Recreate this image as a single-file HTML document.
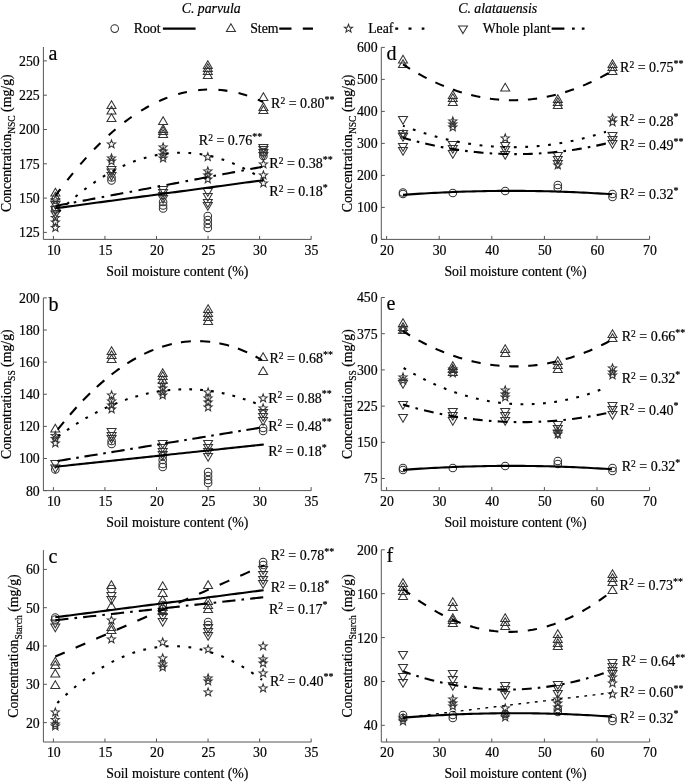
<!DOCTYPE html>
<html><head><meta charset="utf-8"><style>
html,body{margin:0;padding:0;background:#fff;}
svg{display:block;will-change:transform;}
text{font-family:"Liberation Serif",serif;fill:#000;stroke:#000;stroke-width:0.2px;}
.m{fill:none;stroke:#333;stroke-width:1.05;}
</style></head><body>
<svg width="685" height="783" viewBox="0 0 685 783">
<text x="39.7" y="237.3" font-size="13.8" text-anchor="end">125</text>
<text x="39.7" y="203.0" font-size="13.8" text-anchor="end">150</text>
<text x="39.7" y="168.7" font-size="13.8" text-anchor="end">175</text>
<text x="39.7" y="134.4" font-size="13.8" text-anchor="end">200</text>
<text x="39.7" y="100.1" font-size="13.8" text-anchor="end">225</text>
<text x="39.7" y="65.8" font-size="13.8" text-anchor="end">250</text>
<text x="53.8" y="254.6" font-size="13.8" text-anchor="middle">10</text>
<text x="105.4" y="254.6" font-size="13.8" text-anchor="middle">15</text>
<text x="156.9" y="254.6" font-size="13.8" text-anchor="middle">20</text>
<text x="208.5" y="254.6" font-size="13.8" text-anchor="middle">25</text>
<text x="260.0" y="254.6" font-size="13.8" text-anchor="middle">30</text>
<text x="311.5" y="254.6" font-size="13.8" text-anchor="middle">35</text>
<path d="M43.4,47.0V239.4H311.3M43.4,232.40h3.5M43.4,198.10h3.5M43.4,163.80h3.5M43.4,129.50h3.5M43.4,95.20h3.5M43.4,60.90h3.5M53.40,239.4v-3.5M104.95,239.4v-3.5M156.50,239.4v-3.5M208.05,239.4v-3.5M259.60,239.4v-3.5M311.15,239.4v-3.5" stroke="#555" stroke-width="1" fill="none"/>
<text x="48.6" y="59.6" font-size="20" text-anchor="start">a</text>
<text x="177.3" y="275.8" font-size="13.8" text-anchor="middle">Soil moisture content (%)</text>
<text transform="translate(10.8,143.2) rotate(-90)" font-size="13.8" text-anchor="middle">Concentration<tspan font-size="9.5" dy="3.8">NSC</tspan><tspan dy="-3.8"> (mg/g)</tspan></text>
<text x="39.7" y="495.5" font-size="13.8" text-anchor="end">80</text>
<text x="39.7" y="463.4" font-size="13.8" text-anchor="end">100</text>
<text x="39.7" y="431.3" font-size="13.8" text-anchor="end">120</text>
<text x="39.7" y="399.2" font-size="13.8" text-anchor="end">140</text>
<text x="39.7" y="367.0" font-size="13.8" text-anchor="end">160</text>
<text x="39.7" y="334.9" font-size="13.8" text-anchor="end">180</text>
<text x="39.7" y="302.8" font-size="13.8" text-anchor="end">200</text>
<text x="53.8" y="505.8" font-size="13.8" text-anchor="middle">10</text>
<text x="105.4" y="505.8" font-size="13.8" text-anchor="middle">15</text>
<text x="156.9" y="505.8" font-size="13.8" text-anchor="middle">20</text>
<text x="208.5" y="505.8" font-size="13.8" text-anchor="middle">25</text>
<text x="260.0" y="505.8" font-size="13.8" text-anchor="middle">30</text>
<text x="311.5" y="505.8" font-size="13.8" text-anchor="middle">35</text>
<path d="M43.4,297.9V490.6H311.3M43.4,490.62h3.5M43.4,458.50h3.5M43.4,426.38h3.5M43.4,394.26h3.5M43.4,362.14h3.5M43.4,330.02h3.5M43.4,297.90h3.5M53.40,490.6v-3.5M104.95,490.6v-3.5M156.50,490.6v-3.5M208.05,490.6v-3.5M259.60,490.6v-3.5M311.15,490.6v-3.5" stroke="#555" stroke-width="1" fill="none"/>
<text x="48.6" y="310.5" font-size="20" text-anchor="start">b</text>
<text x="177.3" y="527.0" font-size="13.8" text-anchor="middle">Soil moisture content (%)</text>
<text transform="translate(10.8,394.2) rotate(-90)" font-size="13.8" text-anchor="middle">Concentration<tspan font-size="9.5" dy="3.8">SS</tspan><tspan dy="-3.8"> (mg/g)</tspan></text>
<text x="39.7" y="727.5" font-size="13.8" text-anchor="end">20</text>
<text x="39.7" y="689.2" font-size="13.8" text-anchor="end">30</text>
<text x="39.7" y="650.9" font-size="13.8" text-anchor="end">40</text>
<text x="39.7" y="612.6" font-size="13.8" text-anchor="end">50</text>
<text x="39.7" y="574.3" font-size="13.8" text-anchor="end">60</text>
<text x="53.8" y="757.2" font-size="13.8" text-anchor="middle">10</text>
<text x="105.4" y="757.2" font-size="13.8" text-anchor="middle">15</text>
<text x="156.9" y="757.2" font-size="13.8" text-anchor="middle">20</text>
<text x="208.5" y="757.2" font-size="13.8" text-anchor="middle">25</text>
<text x="260.0" y="757.2" font-size="13.8" text-anchor="middle">30</text>
<text x="311.5" y="757.2" font-size="13.8" text-anchor="middle">35</text>
<path d="M43.4,550.1V742.0H311.3M43.4,722.60h3.5M43.4,684.30h3.5M43.4,646.00h3.5M43.4,607.70h3.5M43.4,569.40h3.5M53.40,742.0v-3.5M104.95,742.0v-3.5M156.50,742.0v-3.5M208.05,742.0v-3.5M259.60,742.0v-3.5M311.15,742.0v-3.5" stroke="#555" stroke-width="1" fill="none"/>
<text x="48.6" y="562.7" font-size="20" text-anchor="start">c</text>
<text x="177.3" y="778.4" font-size="13.8" text-anchor="middle">Soil moisture content (%)</text>
<text transform="translate(18.1,646.0) rotate(-90)" font-size="13.8" text-anchor="middle">Concentration<tspan font-size="9.5" dy="3.8">Starch</tspan><tspan dy="-3.8"> (mg/g)</tspan></text>
<text x="377.6" y="244.3" font-size="13.8" text-anchor="end">0</text>
<text x="377.6" y="212.3" font-size="13.8" text-anchor="end">100</text>
<text x="377.6" y="180.3" font-size="13.8" text-anchor="end">200</text>
<text x="377.6" y="148.3" font-size="13.8" text-anchor="end">300</text>
<text x="377.6" y="116.3" font-size="13.8" text-anchor="end">400</text>
<text x="377.6" y="84.3" font-size="13.8" text-anchor="end">500</text>
<text x="377.6" y="52.3" font-size="13.8" text-anchor="end">600</text>
<text x="387.0" y="254.6" font-size="13.8" text-anchor="middle">20</text>
<text x="439.6" y="254.6" font-size="13.8" text-anchor="middle">30</text>
<text x="492.2" y="254.6" font-size="13.8" text-anchor="middle">40</text>
<text x="544.8" y="254.6" font-size="13.8" text-anchor="middle">50</text>
<text x="597.4" y="254.6" font-size="13.8" text-anchor="middle">60</text>
<text x="650.0" y="254.6" font-size="13.8" text-anchor="middle">70</text>
<path d="M381.3,47.4V239.4H649.6M381.3,239.40h3.5M381.3,207.40h3.5M381.3,175.40h3.5M381.3,143.40h3.5M381.3,111.40h3.5M381.3,79.40h3.5M381.3,47.40h3.5M386.60,239.4v-3.5M439.20,239.4v-3.5M491.80,239.4v-3.5M544.40,239.4v-3.5M597.00,239.4v-3.5M649.60,239.4v-3.5" stroke="#555" stroke-width="1" fill="none"/>
<text x="386.5" y="60.0" font-size="20" text-anchor="start">d</text>
<text x="515.5" y="275.8" font-size="13.8" text-anchor="middle">Soil moisture content (%)</text>
<text transform="translate(351.9,143.4) rotate(-90)" font-size="13.8" text-anchor="middle">Concentration<tspan font-size="9.5" dy="3.8">NSC</tspan><tspan dy="-3.8"> (mg/g)</tspan></text>
<text x="377.6" y="483.4" font-size="13.8" text-anchor="end">75</text>
<text x="377.6" y="447.2" font-size="13.8" text-anchor="end">150</text>
<text x="377.6" y="411.0" font-size="13.8" text-anchor="end">225</text>
<text x="377.6" y="374.8" font-size="13.8" text-anchor="end">300</text>
<text x="377.6" y="338.6" font-size="13.8" text-anchor="end">375</text>
<text x="377.6" y="302.4" font-size="13.8" text-anchor="end">450</text>
<text x="387.0" y="505.8" font-size="13.8" text-anchor="middle">20</text>
<text x="439.6" y="505.8" font-size="13.8" text-anchor="middle">30</text>
<text x="492.2" y="505.8" font-size="13.8" text-anchor="middle">40</text>
<text x="544.8" y="505.8" font-size="13.8" text-anchor="middle">50</text>
<text x="597.4" y="505.8" font-size="13.8" text-anchor="middle">60</text>
<text x="650.0" y="505.8" font-size="13.8" text-anchor="middle">70</text>
<path d="M381.3,297.5V490.6H649.6M381.3,478.51h3.5M381.3,442.31h3.5M381.3,406.11h3.5M381.3,369.90h3.5M381.3,333.70h3.5M381.3,297.50h3.5M386.60,490.6v-3.5M439.20,490.6v-3.5M491.80,490.6v-3.5M544.40,490.6v-3.5M597.00,490.6v-3.5M649.60,490.6v-3.5" stroke="#555" stroke-width="1" fill="none"/>
<text x="386.5" y="310.1" font-size="20" text-anchor="start">e</text>
<text x="515.5" y="527.0" font-size="13.8" text-anchor="middle">Soil moisture content (%)</text>
<text transform="translate(351.9,394.1) rotate(-90)" font-size="13.8" text-anchor="middle">Concentration<tspan font-size="9.5" dy="3.8">SS</tspan><tspan dy="-3.8"> (mg/g)</tspan></text>
<text x="377.6" y="730.2" font-size="13.8" text-anchor="end">40</text>
<text x="377.6" y="686.3" font-size="13.8" text-anchor="end">80</text>
<text x="377.6" y="642.5" font-size="13.8" text-anchor="end">120</text>
<text x="377.6" y="598.6" font-size="13.8" text-anchor="end">160</text>
<text x="377.6" y="554.7" font-size="13.8" text-anchor="end">200</text>
<text x="387.0" y="757.2" font-size="13.8" text-anchor="middle">20</text>
<text x="439.6" y="757.2" font-size="13.8" text-anchor="middle">30</text>
<text x="492.2" y="757.2" font-size="13.8" text-anchor="middle">40</text>
<text x="544.8" y="757.2" font-size="13.8" text-anchor="middle">50</text>
<text x="597.4" y="757.2" font-size="13.8" text-anchor="middle">60</text>
<text x="650.0" y="757.2" font-size="13.8" text-anchor="middle">70</text>
<path d="M381.3,549.8V742.0H649.6M381.3,725.32h3.5M381.3,681.44h3.5M381.3,637.56h3.5M381.3,593.68h3.5M381.3,549.80h3.5M386.60,742.0v-3.5M439.20,742.0v-3.5M491.80,742.0v-3.5M544.40,742.0v-3.5M597.00,742.0v-3.5M649.60,742.0v-3.5" stroke="#555" stroke-width="1" fill="none"/>
<text x="386.5" y="562.4" font-size="20" text-anchor="start">f</text>
<text x="515.5" y="778.4" font-size="13.8" text-anchor="middle">Soil moisture content (%)</text>
<text transform="translate(351.9,645.9) rotate(-90)" font-size="13.8" text-anchor="middle">Concentration<tspan font-size="9.5" dy="3.8">Starch</tspan><tspan dy="-3.8"> (mg/g)</tspan></text>
<text x="181.7" y="13.3" font-size="13.8" text-anchor="start" font-style="italic">C. parvula</text>
<text x="458.2" y="13.0" font-size="13.8" text-anchor="start" font-style="italic">C. alatauensis</text>
<circle cx="114.7" cy="28.6" r="3.8" class="m"/>
<text x="133.7" y="33.1" font-size="13.8" text-anchor="start">Root</text>
<path d="M162.9,28.6H195.6" stroke="#000" stroke-width="2.1"/>
<path d="M230.9,23.8L235.4,31.5H226.4Z" class="m"/>
<text x="250.2" y="33.1" font-size="13.8" text-anchor="start">Stem</text>
<path d="M279.3,28.6H291.5M302.8,28.6H313" stroke="#000" stroke-width="2.1"/>
<polygon points="348.50,24.30 349.56,27.14 352.59,27.27 350.21,29.16 351.03,32.08 348.50,30.40 345.97,32.08 346.79,29.16 344.41,27.27 347.44,27.14" class="m"/>
<text x="368.2" y="33.1" font-size="13.8" text-anchor="start">Leaf</text>
<path d="M395.2,28.6H398.2M408.5,28.6H411.5M421.7,28.6H424.4" stroke="#000" stroke-width="2.1"/>
<path d="M463.0,33.6L467.5,25.9H458.5Z" class="m"/>
<text x="482.7" y="33.1" font-size="13.8" text-anchor="start">Whole plant</text>
<path d="M551.6,28.6H564.4M572,28.6H574.7M581.8,28.6H584.5" stroke="#000" stroke-width="2.1"/>
<path d="M55.4,188.3L59.9,196.0H50.9Z" class="m"/>
<path d="M55.4,192.3L59.9,200.0H50.9Z" class="m"/>
<circle cx="55.4" cy="207.0" r="3.8" class="m"/>
<circle cx="55.4" cy="209.5" r="3.8" class="m"/>
<path d="M55.4,209.2L59.9,201.5H50.9Z" class="m"/>
<path d="M55.4,214.2L59.9,206.5H50.9Z" class="m"/>
<path d="M55.4,218.7L59.9,211.0H50.9Z" class="m"/>
<polygon points="55.40,195.50 56.46,198.34 59.49,198.47 57.11,200.36 57.93,203.28 55.40,201.60 52.87,203.28 53.69,200.36 51.31,198.47 54.34,198.34" class="m"/>
<polygon points="55.40,213.50 56.46,216.34 59.49,216.47 57.11,218.36 57.93,221.28 55.40,219.60 52.87,221.28 53.69,218.36 51.31,216.47 54.34,216.34" class="m"/>
<polygon points="55.40,218.00 56.46,220.84 59.49,220.97 57.11,222.86 57.93,225.78 55.40,224.10 52.87,225.78 53.69,222.86 51.31,220.97 54.34,220.84" class="m"/>
<polygon points="55.40,223.50 56.46,226.34 59.49,226.47 57.11,228.36 57.93,231.28 55.40,229.60 52.87,231.28 53.69,228.36 51.31,226.47 54.34,226.34" class="m"/>
<path d="M111.5,100.8L116.0,108.5H107.0Z" class="m"/>
<path d="M111.5,106.3L116.0,114.0H107.0Z" class="m"/>
<path d="M111.5,113.8L116.0,121.5H107.0Z" class="m"/>
<polygon points="111.50,140.00 112.56,142.84 115.59,142.97 113.21,144.86 114.03,147.78 111.50,146.10 108.97,147.78 109.79,144.86 107.41,142.97 110.44,142.84" class="m"/>
<polygon points="111.50,154.00 112.56,156.84 115.59,156.97 113.21,158.86 114.03,161.78 111.50,160.10 108.97,161.78 109.79,158.86 107.41,156.97 110.44,156.84" class="m"/>
<polygon points="111.50,157.00 112.56,159.84 115.59,159.97 113.21,161.86 114.03,164.78 111.50,163.10 108.97,164.78 109.79,161.86 107.41,159.97 110.44,159.84" class="m"/>
<path d="M111.5,174.2L116.0,166.5H107.0Z" class="m"/>
<path d="M111.5,176.7L116.0,169.0H107.0Z" class="m"/>
<path d="M111.5,180.2L116.0,172.5H107.0Z" class="m"/>
<circle cx="111.5" cy="177.5" r="3.8" class="m"/>
<circle cx="111.5" cy="180.5" r="3.8" class="m"/>
<path d="M163.1,116.8L167.6,124.5H158.6Z" class="m"/>
<path d="M163.1,124.8L167.6,132.5H158.6Z" class="m"/>
<path d="M163.1,126.8L167.6,134.5H158.6Z" class="m"/>
<path d="M163.1,129.8L167.6,137.5H158.6Z" class="m"/>
<polygon points="163.10,143.00 164.16,145.84 167.19,145.97 164.81,147.86 165.63,150.78 163.10,149.10 160.57,150.78 161.39,147.86 159.01,145.97 162.04,145.84" class="m"/>
<polygon points="163.10,147.00 164.16,149.84 167.19,149.97 164.81,151.86 165.63,154.78 163.10,153.10 160.57,154.78 161.39,151.86 159.01,149.97 162.04,149.84" class="m"/>
<polygon points="163.10,151.00 164.16,153.84 167.19,153.97 164.81,155.86 165.63,158.78 163.10,157.10 160.57,158.78 161.39,155.86 159.01,153.97 162.04,153.84" class="m"/>
<polygon points="163.10,154.00 164.16,156.84 167.19,156.97 164.81,158.86 165.63,161.78 163.10,160.10 160.57,161.78 161.39,158.86 159.01,156.97 162.04,156.84" class="m"/>
<path d="M163.1,194.2L167.6,186.5H158.6Z" class="m"/>
<path d="M163.1,197.2L167.6,189.5H158.6Z" class="m"/>
<path d="M163.1,200.2L167.6,192.5H158.6Z" class="m"/>
<path d="M163.1,203.2L167.6,195.5H158.6Z" class="m"/>
<circle cx="163.1" cy="202.0" r="3.8" class="m"/>
<circle cx="163.1" cy="205.5" r="3.8" class="m"/>
<circle cx="163.1" cy="208.5" r="3.8" class="m"/>
<path d="M207.8,60.8L212.3,68.5H203.3Z" class="m"/>
<path d="M207.8,63.8L212.3,71.5H203.3Z" class="m"/>
<path d="M207.8,66.8L212.3,74.5H203.3Z" class="m"/>
<path d="M207.8,70.8L212.3,78.5H203.3Z" class="m"/>
<polygon points="207.80,152.80 208.86,155.64 211.89,155.77 209.51,157.66 210.33,160.58 207.80,158.90 205.27,160.58 206.09,157.66 203.71,155.77 206.74,155.64" class="m"/>
<polygon points="207.80,167.00 208.86,169.84 211.89,169.97 209.51,171.86 210.33,174.78 207.80,173.10 205.27,174.78 206.09,171.86 203.71,169.97 206.74,169.84" class="m"/>
<polygon points="207.80,171.00 208.86,173.84 211.89,173.97 209.51,175.86 210.33,178.78 207.80,177.10 205.27,178.78 206.09,175.86 203.71,173.97 206.74,173.84" class="m"/>
<polygon points="207.80,175.00 208.86,177.84 211.89,177.97 209.51,179.86 210.33,182.78 207.80,181.10 205.27,182.78 206.09,179.86 203.71,177.97 206.74,177.84" class="m"/>
<path d="M207.8,196.2L212.3,188.5H203.3Z" class="m"/>
<path d="M207.8,201.2L212.3,193.5H203.3Z" class="m"/>
<path d="M207.8,207.2L212.3,199.5H203.3Z" class="m"/>
<path d="M207.8,210.2L212.3,202.5H203.3Z" class="m"/>
<circle cx="207.8" cy="216.0" r="3.8" class="m"/>
<circle cx="207.8" cy="220.0" r="3.8" class="m"/>
<circle cx="207.8" cy="224.0" r="3.8" class="m"/>
<circle cx="207.8" cy="228.0" r="3.8" class="m"/>
<path d="M263.4,92.8L267.9,100.5H258.9Z" class="m"/>
<path d="M263.4,102.8L267.9,110.5H258.9Z" class="m"/>
<path d="M263.4,105.8L267.9,113.5H258.9Z" class="m"/>
<path d="M263.4,152.2L267.9,144.5H258.9Z" class="m"/>
<path d="M263.4,154.2L267.9,146.5H258.9Z" class="m"/>
<path d="M263.4,157.2L267.9,149.5H258.9Z" class="m"/>
<path d="M263.4,160.2L267.9,152.5H258.9Z" class="m"/>
<circle cx="263.4" cy="152.0" r="3.8" class="m"/>
<circle cx="263.4" cy="156.0" r="3.8" class="m"/>
<polygon points="263.40,160.00 264.46,162.84 267.49,162.97 265.11,164.86 265.93,167.78 263.40,166.10 260.87,167.78 261.69,164.86 259.31,162.97 262.34,162.84" class="m"/>
<polygon points="263.40,171.00 264.46,173.84 267.49,173.97 265.11,175.86 265.93,178.78 263.40,177.10 260.87,178.78 261.69,175.86 259.31,173.97 262.34,173.84" class="m"/>
<polygon points="263.40,179.00 264.46,181.84 267.49,181.97 265.11,183.86 265.93,186.78 263.40,185.10 260.87,186.78 261.69,183.86 259.31,181.97 262.34,181.84" class="m"/>
<path d="M55.50,195.73 L59.02,190.95 L62.53,186.29 L66.05,181.73 L69.57,177.28 L73.08,172.94 L76.60,168.72 L80.12,164.60 L83.64,160.59 L87.15,156.69 L90.67,152.90 L94.19,149.23 L97.70,145.66 L101.22,142.20 L104.74,138.85 L108.25,135.61 L111.77,132.49 L115.29,129.47 L118.81,126.56 L122.32,123.76 L125.84,121.07 L129.36,118.49 L132.87,116.02 L136.39,113.66 L139.91,111.41 L143.42,109.28 L146.94,107.25 L150.46,105.33 L153.97,103.52 L157.49,101.82 L161.01,100.23 L164.53,98.75 L168.04,97.38 L171.56,96.12 L175.08,94.97 L178.59,93.93 L182.11,93.00 L185.63,92.18 L189.14,91.47 L192.66,90.87 L196.18,90.38 L199.69,90.00 L203.21,89.72 L206.73,89.56 L210.25,89.51 L213.76,89.57 L217.28,89.74 L220.80,90.02 L224.31,90.41 L227.83,90.91 L231.35,91.52 L234.86,92.23 L238.38,93.06 L241.90,94.00 L245.42,95.05 L248.93,96.21 L252.45,97.48 L255.97,98.85 L259.48,100.34 L263.00,101.94" fill="none" stroke="#000" stroke-width="2.1" stroke-dasharray="9.0 11.36" stroke-dashoffset="0.71" />
<path d="M55.50,214.98 L59.02,211.54 L62.53,208.20 L66.05,204.95 L69.57,201.81 L73.08,198.76 L76.60,195.81 L80.12,192.95 L83.64,190.20 L87.15,187.54 L90.67,184.98 L94.19,182.52 L97.70,180.15 L101.22,177.88 L104.74,175.71 L108.25,173.64 L111.77,171.67 L115.29,169.79 L118.81,168.01 L122.32,166.33 L125.84,164.75 L129.36,163.26 L132.87,161.88 L136.39,160.59 L139.91,159.39 L143.42,158.30 L146.94,157.30 L150.46,156.40 L153.97,155.60 L157.49,154.90 L161.01,154.29 L164.53,153.79 L168.04,153.38 L171.56,153.06 L175.08,152.85 L178.59,152.73 L182.11,152.71 L185.63,152.79 L189.14,152.97 L192.66,153.24 L196.18,153.61 L199.69,154.08 L203.21,154.65 L206.73,155.31 L210.25,156.08 L213.76,156.94 L217.28,157.89 L220.80,158.95 L224.31,160.10 L227.83,161.35 L231.35,162.70 L234.86,164.15 L238.38,165.69 L241.90,167.34 L245.42,169.08 L248.93,170.91 L252.45,172.85 L255.97,174.88 L259.48,177.01 L263.00,179.24" fill="none" stroke="#000" stroke-width="2.1" stroke-dasharray="2.8 8.48" stroke-dashoffset="6.75" />
<path d="M55.70,205.90 L59.20,205.24 L62.70,204.57 L66.21,203.91 L69.71,203.25 L73.21,202.59 L76.71,201.92 L80.21,201.26 L83.71,200.60 L87.22,199.94 L90.72,199.27 L94.22,198.61 L97.72,197.95 L101.22,197.28 L104.72,196.62 L108.23,195.96 L111.73,195.30 L115.23,194.63 L118.73,193.97 L122.23,193.31 L125.73,192.65 L129.24,191.98 L132.74,191.32 L136.24,190.66 L139.74,189.99 L143.24,189.33 L146.74,188.67 L150.25,188.01 L153.75,187.34 L157.25,186.68 L160.75,186.02 L164.25,185.36 L167.75,184.69 L171.26,184.03 L174.76,183.37 L178.26,182.71 L181.76,182.04 L185.26,181.38 L188.76,180.72 L192.27,180.05 L195.77,179.39 L199.27,178.73 L202.77,178.07 L206.27,177.40 L209.77,176.74 L213.28,176.08 L216.78,175.42 L220.28,174.75 L223.78,174.09 L227.28,173.43 L230.78,172.76 L234.29,172.10 L237.79,171.44 L241.29,170.78 L244.79,170.11 L248.29,169.45 L251.79,168.79 L255.30,168.13 L258.80,167.46 L262.30,166.80" fill="none" stroke="#000" stroke-width="2.1" stroke-dasharray="12.9 6.47 2.6 6.47" stroke-dashoffset="1.03" />
<path d="M55.20,208.30 L58.73,207.82 L62.26,207.35 L65.79,206.87 L69.32,206.39 L72.84,205.92 L76.37,205.44 L79.90,204.97 L83.43,204.49 L86.96,204.01 L90.49,203.54 L94.02,203.06 L97.55,202.58 L101.07,202.11 L104.60,201.63 L108.13,201.16 L111.66,200.68 L115.19,200.20 L118.72,199.73 L122.25,199.25 L125.78,198.77 L129.31,198.30 L132.83,197.82 L136.36,197.35 L139.89,196.87 L143.42,196.39 L146.95,195.92 L150.48,195.44 L154.01,194.96 L157.54,194.49 L161.06,194.01 L164.59,193.54 L168.12,193.06 L171.65,192.58 L175.18,192.11 L178.71,191.63 L182.24,191.15 L185.77,190.68 L189.29,190.20 L192.82,189.73 L196.35,189.25 L199.88,188.77 L203.41,188.30 L206.94,187.82 L210.47,187.34 L214.00,186.87 L217.53,186.39 L221.05,185.92 L224.58,185.44 L228.11,184.96 L231.64,184.49 L235.17,184.01 L238.70,183.53 L242.23,183.06 L245.76,182.58 L249.28,182.11 L252.81,181.63 L256.34,181.15 L259.87,180.68 L263.40,180.20" fill="none" stroke="#000" stroke-width="2.1"  />
<text x="271.1" y="108.1" font-size="14">R<tspan font-size="9.5" dy="-4.3">2</tspan><tspan dy="4.3"> = 0.80</tspan><tspan font-size="10" dy="-5.2">**</tspan></text>
<text x="198.8" y="145.1" font-size="14">R<tspan font-size="9.5" dy="-4.3">2</tspan><tspan dy="4.3"> = 0.76</tspan><tspan font-size="10" dy="-5.2">**</tspan></text>
<text x="269.3" y="168.4" font-size="14">R<tspan font-size="9.5" dy="-4.3">2</tspan><tspan dy="4.3"> = 0.38</tspan><tspan font-size="10" dy="-5.2">**</tspan></text>
<text x="269.3" y="196.2" font-size="14">R<tspan font-size="9.5" dy="-4.3">2</tspan><tspan dy="4.3"> = 0.18</tspan><tspan font-size="10" dy="-5.2">*</tspan></text>
<path d="M55.3,424.3L59.8,432.0H50.8Z" class="m"/>
<polygon points="55.30,431.50 56.36,434.34 59.39,434.47 57.01,436.36 57.83,439.28 55.30,437.60 52.77,439.28 53.59,436.36 51.21,434.47 54.24,434.34" class="m"/>
<polygon points="55.30,434.50 56.36,437.34 59.39,437.47 57.01,439.36 57.83,442.28 55.30,440.60 52.77,442.28 53.59,439.36 51.21,437.47 54.24,437.34" class="m"/>
<polygon points="55.30,439.00 56.36,441.84 59.39,441.97 57.01,443.86 57.83,446.78 55.30,445.10 52.77,446.78 53.59,443.86 51.21,441.97 54.24,441.84" class="m"/>
<path d="M55.3,468.2L59.8,460.5H50.8Z" class="m"/>
<path d="M55.3,472.7L59.8,465.0H50.8Z" class="m"/>
<circle cx="55.3" cy="469.5" r="3.8" class="m"/>
<path d="M111.6,346.8L116.1,354.5H107.1Z" class="m"/>
<path d="M111.6,350.8L116.1,358.5H107.1Z" class="m"/>
<path d="M111.6,354.8L116.1,362.5H107.1Z" class="m"/>
<polygon points="111.60,391.00 112.66,393.84 115.69,393.97 113.31,395.86 114.13,398.78 111.60,397.10 109.07,398.78 109.89,395.86 107.51,393.97 110.54,393.84" class="m"/>
<polygon points="111.60,397.00 112.66,399.84 115.69,399.97 113.31,401.86 114.13,404.78 111.60,403.10 109.07,404.78 109.89,401.86 107.51,399.97 110.54,399.84" class="m"/>
<polygon points="111.60,401.00 112.66,403.84 115.69,403.97 113.31,405.86 114.13,408.78 111.60,407.10 109.07,408.78 109.89,405.86 107.51,403.97 110.54,403.84" class="m"/>
<polygon points="111.60,405.00 112.66,407.84 115.69,407.97 113.31,409.86 114.13,412.78 111.60,411.10 109.07,412.78 109.89,409.86 107.51,407.97 110.54,407.84" class="m"/>
<path d="M111.6,436.2L116.1,428.5H107.1Z" class="m"/>
<path d="M111.6,440.2L116.1,432.5H107.1Z" class="m"/>
<path d="M111.6,443.2L116.1,435.5H107.1Z" class="m"/>
<circle cx="111.6" cy="441.0" r="3.8" class="m"/>
<circle cx="111.6" cy="444.0" r="3.8" class="m"/>
<path d="M162.7,368.8L167.2,376.5H158.2Z" class="m"/>
<path d="M162.7,371.8L167.2,379.5H158.2Z" class="m"/>
<path d="M162.7,375.8L167.2,383.5H158.2Z" class="m"/>
<polygon points="162.70,380.00 163.76,382.84 166.79,382.97 164.41,384.86 165.23,387.78 162.70,386.10 160.17,387.78 160.99,384.86 158.61,382.97 161.64,382.84" class="m"/>
<polygon points="162.70,384.00 163.76,386.84 166.79,386.97 164.41,388.86 165.23,391.78 162.70,390.10 160.17,391.78 160.99,388.86 158.61,386.97 161.64,386.84" class="m"/>
<polygon points="162.70,388.00 163.76,390.84 166.79,390.97 164.41,392.86 165.23,395.78 162.70,394.10 160.17,395.78 160.99,392.86 158.61,390.97 161.64,390.84" class="m"/>
<polygon points="162.70,391.00 163.76,393.84 166.79,393.97 164.41,395.86 165.23,398.78 162.70,397.10 160.17,398.78 160.99,395.86 158.61,393.97 161.64,393.84" class="m"/>
<path d="M162.7,448.2L167.2,440.5H158.2Z" class="m"/>
<path d="M162.7,452.2L167.2,444.5H158.2Z" class="m"/>
<path d="M162.7,456.2L167.2,448.5H158.2Z" class="m"/>
<path d="M162.7,459.2L167.2,451.5H158.2Z" class="m"/>
<circle cx="162.7" cy="456.0" r="3.8" class="m"/>
<circle cx="162.7" cy="460.0" r="3.8" class="m"/>
<circle cx="162.7" cy="464.0" r="3.8" class="m"/>
<circle cx="162.7" cy="467.0" r="3.8" class="m"/>
<path d="M208.1,304.8L212.6,312.5H203.6Z" class="m"/>
<path d="M208.1,308.8L212.6,316.5H203.6Z" class="m"/>
<path d="M208.1,312.8L212.6,320.5H203.6Z" class="m"/>
<path d="M208.1,316.8L212.6,324.5H203.6Z" class="m"/>
<polygon points="208.10,388.00 209.16,390.84 212.19,390.97 209.81,392.86 210.63,395.78 208.10,394.10 205.57,395.78 206.39,392.86 204.01,390.97 207.04,390.84" class="m"/>
<polygon points="208.10,394.00 209.16,396.84 212.19,396.97 209.81,398.86 210.63,401.78 208.10,400.10 205.57,401.78 206.39,398.86 204.01,396.97 207.04,396.84" class="m"/>
<polygon points="208.10,398.00 209.16,400.84 212.19,400.97 209.81,402.86 210.63,405.78 208.10,404.10 205.57,405.78 206.39,402.86 204.01,400.97 207.04,400.84" class="m"/>
<polygon points="208.10,403.00 209.16,405.84 212.19,405.97 209.81,407.86 210.63,410.78 208.10,409.10 205.57,410.78 206.39,407.86 204.01,405.97 207.04,405.84" class="m"/>
<path d="M208.1,448.2L212.6,440.5H203.6Z" class="m"/>
<path d="M208.1,452.2L212.6,444.5H203.6Z" class="m"/>
<path d="M208.1,456.2L212.6,448.5H203.6Z" class="m"/>
<path d="M208.1,461.2L212.6,453.5H203.6Z" class="m"/>
<circle cx="208.1" cy="472.0" r="3.8" class="m"/>
<circle cx="208.1" cy="476.0" r="3.8" class="m"/>
<circle cx="208.1" cy="480.0" r="3.8" class="m"/>
<circle cx="208.1" cy="483.0" r="3.8" class="m"/>
<path d="M263.1,352.8L267.6,360.5H258.6Z" class="m"/>
<path d="M263.1,366.8L267.6,374.5H258.6Z" class="m"/>
<polygon points="263.10,394.00 264.16,396.84 267.19,396.97 264.81,398.86 265.63,401.78 263.10,400.10 260.57,401.78 261.39,398.86 259.01,396.97 262.04,396.84" class="m"/>
<polygon points="263.10,404.00 264.16,406.84 267.19,406.97 264.81,408.86 265.63,411.78 263.10,410.10 260.57,411.78 261.39,408.86 259.01,406.97 262.04,406.84" class="m"/>
<path d="M263.1,417.2L267.6,409.5H258.6Z" class="m"/>
<path d="M263.1,421.2L267.6,413.5H258.6Z" class="m"/>
<path d="M263.1,425.2L267.6,417.5H258.6Z" class="m"/>
<circle cx="263.1" cy="428.0" r="3.8" class="m"/>
<circle cx="263.1" cy="431.0" r="3.8" class="m"/>
<path d="M55.30,432.64 L58.80,428.18 L62.31,423.83 L65.81,419.60 L69.31,415.47 L72.82,411.46 L76.32,407.56 L79.82,403.77 L83.33,400.09 L86.83,396.52 L90.33,393.06 L93.84,389.72 L97.34,386.48 L100.84,383.36 L104.35,380.35 L107.85,377.45 L111.35,374.66 L114.86,371.98 L118.36,369.41 L121.86,366.96 L125.37,364.62 L128.87,362.38 L132.37,360.26 L135.88,358.25 L139.38,356.36 L142.88,354.57 L146.39,352.89 L149.89,351.33 L153.39,349.88 L156.90,348.54 L160.40,347.31 L163.91,346.19 L167.41,345.18 L170.91,344.28 L174.42,343.50 L177.92,342.83 L181.42,342.26 L184.93,341.81 L188.43,341.47 L191.93,341.25 L195.44,341.13 L198.94,341.12 L202.44,341.23 L205.95,341.45 L209.45,341.78 L212.95,342.22 L216.46,342.77 L219.96,343.43 L223.46,344.21 L226.97,345.09 L230.47,346.09 L233.97,347.20 L237.48,348.42 L240.98,349.75 L244.48,351.19 L247.99,352.74 L251.49,354.41 L254.99,356.19 L258.50,358.07 L262.00,360.07" fill="none" stroke="#000" stroke-width="2.1" stroke-dasharray="10.0 9.32" stroke-dashoffset="15.45" />
<path d="M55.30,438.56 L58.80,435.96 L62.31,433.42 L65.81,430.95 L69.31,428.56 L72.82,426.23 L76.32,423.98 L79.82,421.80 L83.33,419.69 L86.83,417.65 L90.33,415.68 L93.84,413.78 L97.34,411.95 L100.84,410.19 L104.35,408.51 L107.85,406.89 L111.35,405.35 L114.86,403.87 L118.36,402.47 L121.86,401.14 L125.37,399.88 L128.87,398.69 L132.37,397.57 L135.88,396.52 L139.38,395.54 L142.88,394.64 L146.39,393.80 L149.89,393.04 L153.39,392.34 L156.90,391.72 L160.40,391.17 L163.91,390.69 L167.41,390.28 L170.91,389.94 L174.42,389.67 L177.92,389.47 L181.42,389.34 L184.93,389.29 L188.43,389.30 L191.93,389.39 L195.44,389.54 L198.94,389.77 L202.44,390.07 L205.95,390.44 L209.45,390.88 L212.95,391.39 L216.46,391.97 L219.96,392.62 L223.46,393.35 L226.97,394.14 L230.47,395.01 L233.97,395.94 L237.48,396.95 L240.98,398.03 L244.48,399.18 L247.99,400.40 L251.49,401.69 L254.99,403.05 L258.50,404.48 L262.00,405.99" fill="none" stroke="#000" stroke-width="2.1" stroke-dasharray="2.8 8.12" stroke-dashoffset="7.41" />
<path d="M55.30,461.36 L58.83,460.78 L62.35,460.20 L65.88,459.62 L69.41,459.04 L72.94,458.46 L76.46,457.88 L79.99,457.31 L83.52,456.73 L87.04,456.15 L90.57,455.57 L94.10,454.99 L97.63,454.41 L101.15,453.83 L104.68,453.25 L108.21,452.67 L111.73,452.09 L115.26,451.51 L118.79,450.93 L122.32,450.36 L125.84,449.78 L129.37,449.20 L132.90,448.62 L136.42,448.04 L139.95,447.46 L143.48,446.88 L147.01,446.30 L150.53,445.72 L154.06,445.14 L157.59,444.56 L161.11,443.98 L164.64,443.41 L168.17,442.83 L171.69,442.25 L175.22,441.67 L178.75,441.09 L182.28,440.51 L185.80,439.93 L189.33,439.35 L192.86,438.77 L196.38,438.19 L199.91,437.61 L203.44,437.03 L206.97,436.46 L210.49,435.88 L214.02,435.30 L217.55,434.72 L221.07,434.14 L224.60,433.56 L228.13,432.98 L231.66,432.40 L235.18,431.82 L238.71,431.24 L242.24,430.66 L245.76,430.09 L249.29,429.51 L252.82,428.93 L256.35,428.35 L259.87,427.77 L263.40,427.19" fill="none" stroke="#000" stroke-width="2.1" stroke-dasharray="13.4 5.68 2.6 5.68" stroke-dashoffset="25.23" />
<path d="M55.20,466.80 L58.74,466.43 L62.27,466.05 L65.81,465.67 L69.34,465.29 L72.88,464.91 L76.41,464.54 L79.95,464.16 L83.48,463.78 L87.02,463.40 L90.56,463.03 L94.09,462.65 L97.63,462.27 L101.16,461.89 L104.70,461.51 L108.23,461.14 L111.77,460.76 L115.31,460.38 L118.84,460.00 L122.38,459.62 L125.91,459.25 L129.45,458.87 L132.98,458.49 L136.52,458.11 L140.05,457.73 L143.59,457.36 L147.13,456.98 L150.66,456.60 L154.20,456.22 L157.73,455.84 L161.27,455.47 L164.80,455.09 L168.34,454.71 L171.87,454.33 L175.41,453.95 L178.95,453.58 L182.48,453.20 L186.02,452.82 L189.55,452.44 L193.09,452.07 L196.62,451.69 L200.16,451.31 L203.69,450.93 L207.23,450.55 L210.77,450.18 L214.30,449.80 L217.84,449.42 L221.37,449.04 L224.91,448.66 L228.44,448.29 L231.98,447.91 L235.52,447.53 L239.05,447.15 L242.59,446.77 L246.12,446.40 L249.66,446.02 L253.19,445.64 L256.73,445.26 L260.26,444.88 L263.80,444.51" fill="none" stroke="#000" stroke-width="2.1"  />
<text x="269.5" y="362.8" font-size="14">R<tspan font-size="9.5" dy="-4.3">2</tspan><tspan dy="4.3"> = 0.68</tspan><tspan font-size="10" dy="-5.2">**</tspan></text>
<text x="268.2" y="402.5" font-size="14">R<tspan font-size="9.5" dy="-4.3">2</tspan><tspan dy="4.3"> = 0.88</tspan><tspan font-size="10" dy="-5.2">**</tspan></text>
<text x="268.2" y="430.6" font-size="14">R<tspan font-size="9.5" dy="-4.3">2</tspan><tspan dy="4.3"> = 0.48</tspan><tspan font-size="10" dy="-5.2">**</tspan></text>
<text x="268.2" y="456.1" font-size="14">R<tspan font-size="9.5" dy="-4.3">2</tspan><tspan dy="4.3"> = 0.18</tspan><tspan font-size="10" dy="-5.2">*</tspan></text>
<circle cx="55.3" cy="617.5" r="3.8" class="m"/>
<circle cx="55.3" cy="619.5" r="3.8" class="m"/>
<path d="M55.3,627.7L59.8,620.0H50.8Z" class="m"/>
<path d="M55.3,631.7L59.8,624.0H50.8Z" class="m"/>
<path d="M55.3,657.3L59.8,665.0H50.8Z" class="m"/>
<path d="M55.3,660.8L59.8,668.5H50.8Z" class="m"/>
<path d="M55.3,669.3L59.8,677.0H50.8Z" class="m"/>
<path d="M55.3,680.8L59.8,688.5H50.8Z" class="m"/>
<polygon points="55.30,708.00 56.36,710.84 59.39,710.97 57.01,712.86 57.83,715.78 55.30,714.10 52.77,715.78 53.59,712.86 51.21,710.97 54.24,710.84" class="m"/>
<polygon points="55.30,715.50 56.36,718.34 59.39,718.47 57.01,720.36 57.83,723.28 55.30,721.60 52.77,723.28 53.59,720.36 51.21,718.47 54.24,718.34" class="m"/>
<polygon points="55.30,720.00 56.36,722.84 59.39,722.97 57.01,724.86 57.83,727.78 55.30,726.10 52.77,727.78 53.59,724.86 51.21,722.97 54.24,722.84" class="m"/>
<polygon points="55.30,722.00 56.36,724.84 59.39,724.97 57.01,726.86 57.83,729.78 55.30,728.10 52.77,729.78 53.59,726.86 51.21,724.97 54.24,724.84" class="m"/>
<path d="M111.4,580.8L115.9,588.5H106.9Z" class="m"/>
<path d="M111.4,601.8L115.9,609.5H106.9Z" class="m"/>
<path d="M111.4,622.8L115.9,630.5H106.9Z" class="m"/>
<path d="M111.4,625.8L115.9,633.5H106.9Z" class="m"/>
<path d="M111.4,600.2L115.9,592.5H106.9Z" class="m"/>
<path d="M111.4,604.2L115.9,596.5H106.9Z" class="m"/>
<circle cx="111.4" cy="589.0" r="3.8" class="m"/>
<polygon points="111.40,616.00 112.46,618.84 115.49,618.97 113.11,620.86 113.93,623.78 111.40,622.10 108.87,623.78 109.69,620.86 107.31,618.97 110.34,618.84" class="m"/>
<polygon points="111.40,635.00 112.46,637.84 115.49,637.97 113.11,639.86 113.93,642.78 111.40,641.10 108.87,642.78 109.69,639.86 107.31,637.97 110.34,637.84" class="m"/>
<path d="M162.7,581.8L167.2,589.5H158.2Z" class="m"/>
<path d="M162.7,588.8L167.2,596.5H158.2Z" class="m"/>
<path d="M162.7,595.8L167.2,603.5H158.2Z" class="m"/>
<path d="M162.7,602.8L167.2,610.5H158.2Z" class="m"/>
<path d="M162.7,606.8L167.2,614.5H158.2Z" class="m"/>
<circle cx="162.7" cy="605.0" r="3.8" class="m"/>
<circle cx="162.7" cy="609.0" r="3.8" class="m"/>
<path d="M162.7,616.2L167.2,608.5H158.2Z" class="m"/>
<path d="M162.7,621.2L167.2,613.5H158.2Z" class="m"/>
<path d="M162.7,626.2L167.2,618.5H158.2Z" class="m"/>
<polygon points="162.70,638.00 163.76,640.84 166.79,640.97 164.41,642.86 165.23,645.78 162.70,644.10 160.17,645.78 160.99,642.86 158.61,640.97 161.64,640.84" class="m"/>
<polygon points="162.70,654.00 163.76,656.84 166.79,656.97 164.41,658.86 165.23,661.78 162.70,660.10 160.17,661.78 160.99,658.86 158.61,656.97 161.64,656.84" class="m"/>
<polygon points="162.70,660.00 163.76,662.84 166.79,662.97 164.41,664.86 165.23,667.78 162.70,666.10 160.17,667.78 160.99,664.86 158.61,662.97 161.64,662.84" class="m"/>
<polygon points="162.70,663.00 163.76,665.84 166.79,665.97 164.41,667.86 165.23,670.78 162.70,669.10 160.17,670.78 160.99,667.86 158.61,665.97 161.64,665.84" class="m"/>
<path d="M208.1,580.8L212.6,588.5H203.6Z" class="m"/>
<path d="M208.1,596.8L212.6,604.5H203.6Z" class="m"/>
<path d="M208.1,600.8L212.6,608.5H203.6Z" class="m"/>
<path d="M208.1,604.8L212.6,612.5H203.6Z" class="m"/>
<circle cx="208.1" cy="622.0" r="3.8" class="m"/>
<circle cx="208.1" cy="625.0" r="3.8" class="m"/>
<path d="M208.1,632.2L212.6,624.5H203.6Z" class="m"/>
<path d="M208.1,636.2L212.6,628.5H203.6Z" class="m"/>
<path d="M208.1,640.2L212.6,632.5H203.6Z" class="m"/>
<polygon points="208.10,645.00 209.16,647.84 212.19,647.97 209.81,649.86 210.63,652.78 208.10,651.10 205.57,652.78 206.39,649.86 204.01,647.97 207.04,647.84" class="m"/>
<polygon points="208.10,674.00 209.16,676.84 212.19,676.97 209.81,678.86 210.63,681.78 208.10,680.10 205.57,681.78 206.39,678.86 204.01,676.97 207.04,676.84" class="m"/>
<polygon points="208.10,677.00 209.16,679.84 212.19,679.97 209.81,681.86 210.63,684.78 208.10,683.10 205.57,684.78 206.39,681.86 204.01,679.97 207.04,679.84" class="m"/>
<polygon points="208.10,688.00 209.16,690.84 212.19,690.97 209.81,692.86 210.63,695.78 208.10,694.10 205.57,695.78 206.39,692.86 204.01,690.97 207.04,690.84" class="m"/>
<circle cx="263.1" cy="562.0" r="3.8" class="m"/>
<circle cx="263.1" cy="565.0" r="3.8" class="m"/>
<path d="M263.1,574.2L267.6,566.5H258.6Z" class="m"/>
<path d="M263.1,579.2L267.6,571.5H258.6Z" class="m"/>
<path d="M263.1,584.2L267.6,576.5H258.6Z" class="m"/>
<path d="M263.1,588.2L267.6,580.5H258.6Z" class="m"/>
<polygon points="263.10,642.00 264.16,644.84 267.19,644.97 264.81,646.86 265.63,649.78 263.10,648.10 260.57,649.78 261.39,646.86 259.01,644.97 262.04,644.84" class="m"/>
<polygon points="263.10,655.00 264.16,657.84 267.19,657.97 264.81,659.86 265.63,662.78 263.10,661.10 260.57,662.78 261.39,659.86 259.01,657.97 262.04,657.84" class="m"/>
<polygon points="263.10,659.00 264.16,661.84 267.19,661.97 264.81,663.86 265.63,666.78 263.10,665.10 260.57,666.78 261.39,663.86 259.01,661.97 262.04,661.84" class="m"/>
<polygon points="263.10,669.00 264.16,671.84 267.19,671.97 264.81,673.86 265.63,676.78 263.10,675.10 260.57,676.78 261.39,673.86 259.01,671.97 262.04,671.84" class="m"/>
<polygon points="263.10,684.00 264.16,686.84 267.19,686.97 264.81,688.86 265.63,691.78 263.10,690.10 260.57,691.78 261.39,688.86 259.01,686.97 262.04,686.84" class="m"/>
<path d="M55.30,656.57 L58.84,655.02 L62.37,653.48 L65.91,651.93 L69.45,650.39 L72.99,648.84 L76.52,647.30 L80.06,645.75 L83.60,644.21 L87.14,642.66 L90.67,641.12 L94.21,639.57 L97.75,638.03 L101.28,636.48 L104.82,634.94 L108.36,633.39 L111.90,631.85 L115.43,630.30 L118.97,628.76 L122.51,627.21 L126.05,625.67 L129.58,624.12 L133.12,622.58 L136.66,621.03 L140.19,619.49 L143.73,617.94 L147.27,616.40 L150.81,614.85 L154.34,613.30 L157.88,611.76 L161.42,610.21 L164.96,608.67 L168.49,607.12 L172.03,605.58 L175.57,604.03 L179.11,602.49 L182.64,600.94 L186.18,599.40 L189.72,597.85 L193.25,596.31 L196.79,594.76 L200.33,593.22 L203.87,591.67 L207.40,590.13 L210.94,588.58 L214.48,587.04 L218.02,585.49 L221.55,583.95 L225.09,582.40 L228.63,580.86 L232.16,579.31 L235.70,577.77 L239.24,576.22 L242.78,574.68 L246.31,573.13 L249.85,571.58 L253.39,570.04 L256.93,568.49 L260.46,566.95 L264.00,565.40" fill="none" stroke="#000" stroke-width="2.1" stroke-dasharray="10.5 11.95" stroke-dashoffset="0.24" />
<path d="M55.30,705.08 L58.80,701.62 L62.31,698.27 L65.81,695.02 L69.31,691.87 L72.82,688.83 L76.32,685.90 L79.82,683.07 L83.33,680.34 L86.83,677.72 L90.33,675.20 L93.84,672.79 L97.34,670.48 L100.84,668.28 L104.35,666.18 L107.85,664.18 L111.35,662.29 L114.86,660.51 L118.36,658.82 L121.86,657.25 L125.37,655.77 L128.87,654.41 L132.37,653.14 L135.88,651.98 L139.38,650.93 L142.88,649.98 L146.39,649.13 L149.89,648.39 L153.39,647.76 L156.90,647.22 L160.40,646.80 L163.91,646.47 L167.41,646.25 L170.91,646.14 L174.42,646.13 L177.92,646.23 L181.42,646.42 L184.93,646.73 L188.43,647.14 L191.93,647.65 L195.44,648.27 L198.94,648.99 L202.44,649.81 L205.95,650.74 L209.45,651.78 L212.95,652.92 L216.46,654.16 L219.96,655.51 L223.46,656.97 L226.97,658.52 L230.47,660.18 L233.97,661.95 L237.48,663.82 L240.98,665.80 L244.48,667.88 L247.99,670.06 L251.49,672.35 L254.99,674.74 L258.50,677.24 L262.00,679.85" fill="none" stroke="#000" stroke-width="2.1" stroke-dasharray="2.8 8.57" stroke-dashoffset="8.53" />
<path d="M55.30,620.21 L58.83,619.82 L62.36,619.43 L65.89,619.04 L69.42,618.65 L72.95,618.26 L76.48,617.87 L80.01,617.48 L83.54,617.09 L87.07,616.70 L90.61,616.31 L94.14,615.93 L97.67,615.54 L101.20,615.15 L104.73,614.76 L108.26,614.37 L111.79,613.98 L115.32,613.59 L118.85,613.20 L122.38,612.81 L125.91,612.42 L129.44,612.03 L132.97,611.64 L136.50,611.26 L140.03,610.87 L143.56,610.48 L147.09,610.09 L150.62,609.70 L154.15,609.31 L157.68,608.92 L161.22,608.53 L164.75,608.14 L168.28,607.75 L171.81,607.36 L175.34,606.98 L178.87,606.59 L182.40,606.20 L185.93,605.81 L189.46,605.42 L192.99,605.03 L196.52,604.64 L200.05,604.25 L203.58,603.86 L207.11,603.47 L210.64,603.08 L214.17,602.69 L217.70,602.31 L221.23,601.92 L224.76,601.53 L228.29,601.14 L231.83,600.75 L235.36,600.36 L238.89,599.97 L242.42,599.58 L245.95,599.19 L249.48,598.80 L253.01,598.41 L256.54,598.02 L260.07,597.64 L263.60,597.25" fill="none" stroke="#000" stroke-width="2.1" stroke-dasharray="13.2 6.10 2.6 6.10" stroke-dashoffset="0.00" />
<path d="M55.30,617.27 L58.83,616.81 L62.36,616.35 L65.89,615.90 L69.42,615.44 L72.95,614.98 L76.48,614.52 L80.01,614.06 L83.54,613.60 L87.07,613.14 L90.61,612.68 L94.14,612.22 L97.67,611.77 L101.20,611.31 L104.73,610.85 L108.26,610.39 L111.79,609.93 L115.32,609.47 L118.85,609.01 L122.38,608.55 L125.91,608.10 L129.44,607.64 L132.97,607.18 L136.50,606.72 L140.03,606.26 L143.56,605.80 L147.09,605.34 L150.62,604.88 L154.15,604.42 L157.68,603.97 L161.22,603.51 L164.75,603.05 L168.28,602.59 L171.81,602.13 L175.34,601.67 L178.87,601.21 L182.40,600.75 L185.93,600.29 L189.46,599.84 L192.99,599.38 L196.52,598.92 L200.05,598.46 L203.58,598.00 L207.11,597.54 L210.64,597.08 L214.17,596.62 L217.70,596.17 L221.23,595.71 L224.76,595.25 L228.29,594.79 L231.83,594.33 L235.36,593.87 L238.89,593.41 L242.42,592.95 L245.95,592.49 L249.48,592.04 L253.01,591.58 L256.54,591.12 L260.07,590.66 L263.60,590.20" fill="none" stroke="#000" stroke-width="2.1"  />
<text x="270.7" y="560.3" font-size="14">R<tspan font-size="9.5" dy="-4.3">2</tspan><tspan dy="4.3"> = 0.78</tspan><tspan font-size="10" dy="-5.2">**</tspan></text>
<text x="270.7" y="592.3" font-size="14">R<tspan font-size="9.5" dy="-4.3">2</tspan><tspan dy="4.3"> = 0.18</tspan><tspan font-size="10" dy="-5.2">*</tspan></text>
<text x="268.9" y="613.5" font-size="14">R<tspan font-size="9.5" dy="-4.3">2</tspan><tspan dy="4.3"> = 0.17</tspan><tspan font-size="10" dy="-5.2">*</tspan></text>
<text x="270.0" y="685.6" font-size="14">R<tspan font-size="9.5" dy="-4.3">2</tspan><tspan dy="4.3"> = 0.40</tspan><tspan font-size="10" dy="-5.2">**</tspan></text>
<path d="M403.0,55.3L407.5,63.0H398.5Z" class="m"/>
<path d="M403.0,59.8L407.5,67.5H398.5Z" class="m"/>
<path d="M403.0,124.2L407.5,116.5H398.5Z" class="m"/>
<path d="M403.0,138.2L407.5,130.5H398.5Z" class="m"/>
<path d="M403.0,141.2L407.5,133.5H398.5Z" class="m"/>
<path d="M403.0,151.2L407.5,143.5H398.5Z" class="m"/>
<path d="M403.0,155.2L407.5,147.5H398.5Z" class="m"/>
<polygon points="403.00,130.00 404.06,132.84 407.09,132.97 404.71,134.86 405.53,137.78 403.00,136.10 400.47,137.78 401.29,134.86 398.91,132.97 401.94,132.84" class="m"/>
<circle cx="403.0" cy="192.5" r="3.8" class="m"/>
<circle cx="403.0" cy="194.0" r="3.8" class="m"/>
<path d="M452.8,90.8L457.3,98.5H448.3Z" class="m"/>
<path d="M452.8,93.8L457.3,101.5H448.3Z" class="m"/>
<path d="M452.8,97.8L457.3,105.5H448.3Z" class="m"/>
<polygon points="452.80,117.00 453.86,119.84 456.89,119.97 454.51,121.86 455.33,124.78 452.80,123.10 450.27,124.78 451.09,121.86 448.71,119.97 451.74,119.84" class="m"/>
<polygon points="452.80,120.00 453.86,122.84 456.89,122.97 454.51,124.86 455.33,127.78 452.80,126.10 450.27,127.78 451.09,124.86 448.71,122.97 451.74,122.84" class="m"/>
<polygon points="452.80,123.00 453.86,125.84 456.89,125.97 454.51,127.86 455.33,130.78 452.80,129.10 450.27,130.78 451.09,127.86 448.71,125.97 451.74,125.84" class="m"/>
<path d="M452.8,149.2L457.3,141.5H448.3Z" class="m"/>
<path d="M452.8,153.2L457.3,145.5H448.3Z" class="m"/>
<path d="M452.8,158.2L457.3,150.5H448.3Z" class="m"/>
<circle cx="452.8" cy="193.0" r="3.8" class="m"/>
<path d="M505.2,83.3L509.7,91.0H500.7Z" class="m"/>
<polygon points="505.20,134.00 506.26,136.84 509.29,136.97 506.91,138.86 507.73,141.78 505.20,140.10 502.67,141.78 503.49,138.86 501.11,136.97 504.14,136.84" class="m"/>
<path d="M505.2,150.2L509.7,142.5H500.7Z" class="m"/>
<path d="M505.2,154.2L509.7,146.5H500.7Z" class="m"/>
<path d="M505.2,159.2L509.7,151.5H500.7Z" class="m"/>
<circle cx="505.2" cy="191.0" r="3.8" class="m"/>
<path d="M557.8,94.8L562.3,102.5H553.3Z" class="m"/>
<path d="M557.8,97.8L562.3,105.5H553.3Z" class="m"/>
<path d="M557.8,100.8L562.3,108.5H553.3Z" class="m"/>
<path d="M557.8,160.2L562.3,152.5H553.3Z" class="m"/>
<path d="M557.8,164.2L562.3,156.5H553.3Z" class="m"/>
<path d="M557.8,168.2L562.3,160.5H553.3Z" class="m"/>
<polygon points="557.80,161.00 558.86,163.84 561.89,163.97 559.51,165.86 560.33,168.78 557.80,167.10 555.27,168.78 556.09,165.86 553.71,163.97 556.74,163.84" class="m"/>
<circle cx="557.8" cy="185.0" r="3.8" class="m"/>
<circle cx="557.8" cy="188.0" r="3.8" class="m"/>
<path d="M612.5,59.8L617.0,67.5H608.0Z" class="m"/>
<path d="M612.5,62.8L617.0,70.5H608.0Z" class="m"/>
<path d="M612.5,66.8L617.0,74.5H608.0Z" class="m"/>
<polygon points="612.50,114.00 613.56,116.84 616.59,116.97 614.21,118.86 615.03,121.78 612.50,120.10 609.97,121.78 610.79,118.86 608.41,116.97 611.44,116.84" class="m"/>
<polygon points="612.50,118.00 613.56,120.84 616.59,120.97 614.21,122.86 615.03,125.78 612.50,124.10 609.97,125.78 610.79,122.86 608.41,120.97 611.44,120.84" class="m"/>
<path d="M612.5,140.2L617.0,132.5H608.0Z" class="m"/>
<path d="M612.5,144.2L617.0,136.5H608.0Z" class="m"/>
<path d="M612.5,148.2L617.0,140.5H608.0Z" class="m"/>
<circle cx="612.5" cy="194.0" r="3.8" class="m"/>
<circle cx="612.5" cy="197.0" r="3.8" class="m"/>
<path d="M403.00,64.38 L406.51,66.64 L410.02,68.81 L413.53,70.92 L417.03,72.95 L420.54,74.91 L424.05,76.80 L427.56,78.61 L431.07,80.35 L434.58,82.02 L438.08,83.62 L441.59,85.14 L445.10,86.59 L448.61,87.96 L452.12,89.26 L455.63,90.49 L459.14,91.65 L462.64,92.73 L466.15,93.74 L469.66,94.68 L473.17,95.54 L476.68,96.34 L480.19,97.05 L483.69,97.70 L487.20,98.27 L490.71,98.77 L494.22,99.19 L497.73,99.55 L501.24,99.83 L504.75,100.03 L508.25,100.17 L511.76,100.23 L515.27,100.22 L518.78,100.13 L522.29,99.97 L525.80,99.74 L529.31,99.43 L532.81,99.06 L536.32,98.61 L539.83,98.08 L543.34,97.48 L546.85,96.81 L550.36,96.07 L553.86,95.26 L557.37,94.37 L560.88,93.40 L564.39,92.37 L567.90,91.26 L571.41,90.08 L574.92,88.83 L578.42,87.50 L581.93,86.10 L585.44,84.62 L588.95,83.08 L592.46,81.46 L595.97,79.76 L599.47,78.00 L602.98,76.16 L606.49,74.25 L610.00,72.26" fill="none" stroke="#000" stroke-width="2.1" stroke-dasharray="9.3 9.74" stroke-dashoffset="1.01" />
<path d="M403.00,125.70 L406.44,127.02 L409.88,128.31 L413.32,129.54 L416.76,130.74 L420.20,131.90 L423.64,133.01 L427.08,134.08 L430.53,135.11 L433.97,136.10 L437.41,137.04 L440.85,137.94 L444.29,138.81 L447.73,139.62 L451.17,140.40 L454.61,141.13 L458.05,141.83 L461.49,142.48 L464.93,143.09 L468.37,143.65 L471.81,144.18 L475.25,144.66 L478.69,145.10 L482.14,145.50 L485.58,145.85 L489.02,146.16 L492.46,146.44 L495.90,146.67 L499.34,146.85 L502.78,147.00 L506.22,147.10 L509.66,147.16 L513.10,147.18 L516.54,147.16 L519.98,147.09 L523.42,146.99 L526.86,146.84 L530.31,146.65 L533.75,146.41 L537.19,146.14 L540.63,145.82 L544.07,145.46 L547.51,145.06 L550.95,144.61 L554.39,144.13 L557.83,143.60 L561.27,143.03 L564.71,142.42 L568.15,141.76 L571.59,141.07 L575.03,140.33 L578.47,139.55 L581.92,138.73 L585.36,137.86 L588.80,136.96 L592.24,136.01 L595.68,135.02 L599.12,133.98 L602.56,132.91 L606.00,131.79" fill="none" stroke="#000" stroke-width="2.1" stroke-dasharray="2.8 8.65" stroke-dashoffset="0.92" />
<path d="M403.00,137.70 L406.46,138.69 L409.92,139.65 L413.37,140.59 L416.83,141.49 L420.29,142.36 L423.75,143.20 L427.20,144.01 L430.66,144.78 L434.12,145.53 L437.58,146.24 L441.03,146.93 L444.49,147.58 L447.95,148.20 L451.41,148.79 L454.86,149.35 L458.32,149.88 L461.78,150.38 L465.24,150.85 L468.69,151.29 L472.15,151.69 L475.61,152.06 L479.07,152.41 L482.53,152.72 L485.98,153.00 L489.44,153.25 L492.90,153.47 L496.36,153.66 L499.81,153.82 L503.27,153.94 L506.73,154.04 L510.19,154.10 L513.64,154.13 L517.10,154.14 L520.56,154.11 L524.02,154.05 L527.47,153.96 L530.93,153.84 L534.39,153.68 L537.85,153.50 L541.31,153.28 L544.76,153.04 L548.22,152.76 L551.68,152.45 L555.14,152.11 L558.59,151.74 L562.05,151.34 L565.51,150.91 L568.97,150.45 L572.42,149.95 L575.88,149.43 L579.34,148.87 L582.80,148.29 L586.25,147.67 L589.71,147.02 L593.17,146.34 L596.63,145.63 L600.08,144.89 L603.54,144.11 L607.00,143.31" fill="none" stroke="#000" stroke-width="2.1" stroke-dasharray="9.8 6.12 2.6 6.12" stroke-dashoffset="1.65" />
<path d="M403.00,194.87 L406.54,194.61 L410.08,194.36 L413.63,194.12 L417.17,193.89 L420.71,193.67 L424.25,193.45 L427.80,193.25 L431.34,193.05 L434.88,192.86 L438.42,192.68 L441.97,192.51 L445.51,192.35 L449.05,192.19 L452.59,192.05 L456.14,191.91 L459.68,191.78 L463.22,191.66 L466.76,191.55 L470.31,191.44 L473.85,191.35 L477.39,191.26 L480.93,191.18 L484.47,191.11 L488.02,191.05 L491.56,191.00 L495.10,190.96 L498.64,190.92 L502.19,190.89 L505.73,190.87 L509.27,190.86 L512.81,190.86 L516.36,190.87 L519.90,190.89 L523.44,190.91 L526.98,190.94 L530.53,190.98 L534.07,191.03 L537.61,191.09 L541.15,191.16 L544.69,191.23 L548.24,191.32 L551.78,191.41 L555.32,191.51 L558.86,191.62 L562.41,191.74 L565.95,191.86 L569.49,192.00 L573.03,192.14 L576.58,192.29 L580.12,192.45 L583.66,192.62 L587.20,192.80 L590.75,192.98 L594.29,193.18 L597.83,193.38 L601.37,193.59 L604.92,193.81 L608.46,194.04 L612.00,194.28" fill="none" stroke="#000" stroke-width="2.1"  />
<text x="620.1" y="71.9" font-size="14">R<tspan font-size="9.5" dy="-4.3">2</tspan><tspan dy="4.3"> = 0.75</tspan><tspan font-size="10" dy="-5.2">**</tspan></text>
<text x="620.1" y="125.6" font-size="14">R<tspan font-size="9.5" dy="-4.3">2</tspan><tspan dy="4.3"> = 0.28</tspan><tspan font-size="10" dy="-5.2">*</tspan></text>
<text x="620.1" y="150.3" font-size="14">R<tspan font-size="9.5" dy="-4.3">2</tspan><tspan dy="4.3"> = 0.49</tspan><tspan font-size="10" dy="-5.2">**</tspan></text>
<text x="620.1" y="198.9" font-size="14">R<tspan font-size="9.5" dy="-4.3">2</tspan><tspan dy="4.3"> = 0.32</tspan><tspan font-size="10" dy="-5.2">*</tspan></text>
<path d="M403.0,318.8L407.5,326.5H398.5Z" class="m"/>
<path d="M403.0,322.8L407.5,330.5H398.5Z" class="m"/>
<path d="M403.0,325.8L407.5,333.5H398.5Z" class="m"/>
<polygon points="403.00,325.00 404.06,327.84 407.09,327.97 404.71,329.86 405.53,332.78 403.00,331.10 400.47,332.78 401.29,329.86 398.91,327.97 401.94,327.84" class="m"/>
<polygon points="403.00,373.00 404.06,375.84 407.09,375.97 404.71,377.86 405.53,380.78 403.00,379.10 400.47,380.78 401.29,377.86 398.91,375.97 401.94,375.84" class="m"/>
<polygon points="403.00,376.00 404.06,378.84 407.09,378.97 404.71,380.86 405.53,383.78 403.00,382.10 400.47,383.78 401.29,380.86 398.91,378.97 401.94,378.84" class="m"/>
<path d="M403.0,388.2L407.5,380.5H398.5Z" class="m"/>
<path d="M403.0,409.2L407.5,401.5H398.5Z" class="m"/>
<path d="M403.0,422.2L407.5,414.5H398.5Z" class="m"/>
<circle cx="403.0" cy="468.0" r="3.8" class="m"/>
<circle cx="403.0" cy="470.0" r="3.8" class="m"/>
<path d="M452.8,361.8L457.3,369.5H448.3Z" class="m"/>
<path d="M452.8,364.8L457.3,372.5H448.3Z" class="m"/>
<path d="M452.8,367.8L457.3,375.5H448.3Z" class="m"/>
<polygon points="452.80,365.00 453.86,367.84 456.89,367.97 454.51,369.86 455.33,372.78 452.80,371.10 450.27,372.78 451.09,369.86 448.71,367.97 451.74,367.84" class="m"/>
<polygon points="452.80,369.00 453.86,371.84 456.89,371.97 454.51,373.86 455.33,376.78 452.80,375.10 450.27,376.78 451.09,373.86 448.71,371.97 451.74,371.84" class="m"/>
<path d="M452.8,416.2L457.3,408.5H448.3Z" class="m"/>
<path d="M452.8,420.2L457.3,412.5H448.3Z" class="m"/>
<path d="M452.8,425.2L457.3,417.5H448.3Z" class="m"/>
<circle cx="452.8" cy="468.0" r="3.8" class="m"/>
<path d="M505.2,344.8L509.7,352.5H500.7Z" class="m"/>
<path d="M505.2,348.8L509.7,356.5H500.7Z" class="m"/>
<polygon points="505.20,386.00 506.26,388.84 509.29,388.97 506.91,390.86 507.73,393.78 505.20,392.10 502.67,393.78 503.49,390.86 501.11,388.97 504.14,388.84" class="m"/>
<polygon points="505.20,390.00 506.26,392.84 509.29,392.97 506.91,394.86 507.73,397.78 505.20,396.10 502.67,397.78 503.49,394.86 501.11,392.97 504.14,392.84" class="m"/>
<polygon points="505.20,393.00 506.26,395.84 509.29,395.97 506.91,397.86 507.73,400.78 505.20,399.10 502.67,400.78 503.49,397.86 501.11,395.97 504.14,395.84" class="m"/>
<path d="M505.2,416.2L509.7,408.5H500.7Z" class="m"/>
<path d="M505.2,420.2L509.7,412.5H500.7Z" class="m"/>
<path d="M505.2,425.2L509.7,417.5H500.7Z" class="m"/>
<circle cx="505.2" cy="466.0" r="3.8" class="m"/>
<path d="M557.8,356.8L562.3,364.5H553.3Z" class="m"/>
<path d="M557.8,360.8L562.3,368.5H553.3Z" class="m"/>
<path d="M557.8,364.8L562.3,372.5H553.3Z" class="m"/>
<path d="M557.8,429.2L562.3,421.5H553.3Z" class="m"/>
<path d="M557.8,433.2L562.3,425.5H553.3Z" class="m"/>
<path d="M557.8,438.2L562.3,430.5H553.3Z" class="m"/>
<polygon points="557.80,427.00 558.86,429.84 561.89,429.97 559.51,431.86 560.33,434.78 557.80,433.10 555.27,434.78 556.09,431.86 553.71,429.97 556.74,429.84" class="m"/>
<polygon points="557.80,430.00 558.86,432.84 561.89,432.97 559.51,434.86 560.33,437.78 557.80,436.10 555.27,437.78 556.09,434.86 553.71,432.97 556.74,432.84" class="m"/>
<circle cx="557.8" cy="461.0" r="3.8" class="m"/>
<circle cx="557.8" cy="464.0" r="3.8" class="m"/>
<path d="M612.5,329.8L617.0,337.5H608.0Z" class="m"/>
<path d="M612.5,333.8L617.0,341.5H608.0Z" class="m"/>
<polygon points="612.50,364.00 613.56,366.84 616.59,366.97 614.21,368.86 615.03,371.78 612.50,370.10 609.97,371.78 610.79,368.86 608.41,366.97 611.44,366.84" class="m"/>
<polygon points="612.50,368.00 613.56,370.84 616.59,370.97 614.21,372.86 615.03,375.78 612.50,374.10 609.97,375.78 610.79,372.86 608.41,370.97 611.44,370.84" class="m"/>
<polygon points="612.50,371.00 613.56,373.84 616.59,373.97 614.21,375.86 615.03,378.78 612.50,377.10 609.97,378.78 610.79,375.86 608.41,373.97 611.44,373.84" class="m"/>
<path d="M612.5,410.2L617.0,402.5H608.0Z" class="m"/>
<path d="M612.5,414.2L617.0,406.5H608.0Z" class="m"/>
<path d="M612.5,419.2L617.0,411.5H608.0Z" class="m"/>
<circle cx="612.5" cy="468.0" r="3.8" class="m"/>
<circle cx="612.5" cy="471.0" r="3.8" class="m"/>
<path d="M403.00,331.24 L406.51,333.41 L410.02,335.51 L413.53,337.55 L417.03,339.51 L420.54,341.41 L424.05,343.23 L427.56,344.99 L431.07,346.68 L434.58,348.30 L438.08,349.85 L441.59,351.33 L445.10,352.74 L448.61,354.08 L452.12,355.35 L455.63,356.55 L459.14,357.69 L462.64,358.75 L466.15,359.75 L469.66,360.67 L473.17,361.53 L476.68,362.32 L480.19,363.03 L483.69,363.68 L487.20,364.26 L490.71,364.77 L494.22,365.21 L497.73,365.58 L501.24,365.89 L504.75,366.12 L508.25,366.28 L511.76,366.38 L515.27,366.40 L518.78,366.36 L522.29,366.24 L525.80,366.06 L529.31,365.81 L532.81,365.49 L536.32,365.10 L539.83,364.64 L543.34,364.11 L546.85,363.51 L550.36,362.84 L553.86,362.11 L557.37,361.30 L560.88,360.42 L564.39,359.48 L567.90,358.46 L571.41,357.38 L574.92,356.23 L578.42,355.01 L581.93,353.71 L585.44,352.35 L588.95,350.92 L592.46,349.42 L595.97,347.86 L599.47,346.22 L602.98,344.51 L606.49,342.74 L610.00,340.89" fill="none" stroke="#000" stroke-width="2.1" stroke-dasharray="9.3 9.75" stroke-dashoffset="1.08" />
<path d="M403.00,367.64 L406.44,369.69 L409.88,371.68 L413.32,373.61 L416.76,375.48 L420.20,377.29 L423.64,379.05 L427.08,380.74 L430.53,382.38 L433.97,383.95 L437.41,385.47 L440.85,386.93 L444.29,388.33 L447.73,389.67 L451.17,390.95 L454.61,392.18 L458.05,393.34 L461.49,394.45 L464.93,395.49 L468.37,396.48 L471.81,397.41 L475.25,398.28 L478.69,399.09 L482.14,399.84 L485.58,400.53 L489.02,401.17 L492.46,401.74 L495.90,402.26 L499.34,402.72 L502.78,403.11 L506.22,403.45 L509.66,403.73 L513.10,403.95 L516.54,404.12 L519.98,404.22 L523.42,404.26 L526.86,404.25 L530.31,404.17 L533.75,404.04 L537.19,403.85 L540.63,403.60 L544.07,403.29 L547.51,402.92 L550.95,402.49 L554.39,402.01 L557.83,401.46 L561.27,400.86 L564.71,400.19 L568.15,399.47 L571.59,398.69 L575.03,397.85 L578.47,396.95 L581.92,395.99 L585.36,394.98 L588.80,393.90 L592.24,392.77 L595.68,391.57 L599.12,390.32 L602.56,389.01 L606.00,387.64" fill="none" stroke="#000" stroke-width="2.1" stroke-dasharray="2.8 8.46" stroke-dashoffset="10.59" />
<path d="M403.00,404.61 L406.46,405.62 L409.92,406.59 L413.37,407.54 L416.83,408.46 L420.29,409.34 L423.75,410.20 L427.20,411.03 L430.66,411.82 L434.12,412.59 L437.58,413.33 L441.03,414.04 L444.49,414.72 L447.95,415.36 L451.41,415.98 L454.86,416.57 L458.32,417.13 L461.78,417.66 L465.24,418.16 L468.69,418.63 L472.15,419.07 L475.61,419.48 L479.07,419.87 L482.53,420.22 L485.98,420.54 L489.44,420.83 L492.90,421.09 L496.36,421.33 L499.81,421.53 L503.27,421.70 L506.73,421.85 L510.19,421.96 L513.64,422.04 L517.10,422.10 L520.56,422.12 L524.02,422.12 L527.47,422.08 L530.93,422.02 L534.39,421.92 L537.85,421.80 L541.31,421.65 L544.76,421.46 L548.22,421.25 L551.68,421.01 L555.14,420.74 L558.59,420.43 L562.05,420.10 L565.51,419.74 L568.97,419.35 L572.42,418.93 L575.88,418.48 L579.34,418.00 L582.80,417.49 L586.25,416.95 L589.71,416.38 L593.17,415.78 L596.63,415.15 L600.08,414.49 L603.54,413.80 L607.00,413.08" fill="none" stroke="#000" stroke-width="2.1" stroke-dasharray="9.8 6.23 2.6 6.23" stroke-dashoffset="3.07" />
<path d="M403.00,469.87 L406.54,469.61 L410.08,469.36 L413.63,469.12 L417.17,468.89 L420.71,468.67 L424.25,468.45 L427.80,468.25 L431.34,468.05 L434.88,467.86 L438.42,467.68 L441.97,467.51 L445.51,467.35 L449.05,467.19 L452.59,467.05 L456.14,466.91 L459.68,466.78 L463.22,466.66 L466.76,466.55 L470.31,466.44 L473.85,466.35 L477.39,466.26 L480.93,466.18 L484.47,466.11 L488.02,466.05 L491.56,466.00 L495.10,465.96 L498.64,465.92 L502.19,465.89 L505.73,465.87 L509.27,465.86 L512.81,465.86 L516.36,465.87 L519.90,465.89 L523.44,465.91 L526.98,465.94 L530.53,465.98 L534.07,466.03 L537.61,466.09 L541.15,466.16 L544.69,466.23 L548.24,466.32 L551.78,466.41 L555.32,466.51 L558.86,466.62 L562.41,466.74 L565.95,466.86 L569.49,467.00 L573.03,467.14 L576.58,467.29 L580.12,467.45 L583.66,467.62 L587.20,467.80 L590.75,467.98 L594.29,468.18 L597.83,468.38 L601.37,468.59 L604.92,468.81 L608.46,469.04 L612.00,469.28" fill="none" stroke="#000" stroke-width="2.1"  />
<text x="621.7" y="341.1" font-size="14">R<tspan font-size="9.5" dy="-4.3">2</tspan><tspan dy="4.3"> = 0.66</tspan><tspan font-size="10" dy="-5.2">**</tspan></text>
<text x="621.7" y="383.2" font-size="14">R<tspan font-size="9.5" dy="-4.3">2</tspan><tspan dy="4.3"> = 0.32</tspan><tspan font-size="10" dy="-5.2">*</tspan></text>
<text x="620.1" y="414.6" font-size="14">R<tspan font-size="9.5" dy="-4.3">2</tspan><tspan dy="4.3"> = 0.40</tspan><tspan font-size="10" dy="-5.2">*</tspan></text>
<text x="621.7" y="471.4" font-size="14">R<tspan font-size="9.5" dy="-4.3">2</tspan><tspan dy="4.3"> = 0.32</tspan><tspan font-size="10" dy="-5.2">*</tspan></text>
<path d="M403.0,578.8L407.5,586.5H398.5Z" class="m"/>
<path d="M403.0,582.8L407.5,590.5H398.5Z" class="m"/>
<path d="M403.0,586.8L407.5,594.5H398.5Z" class="m"/>
<path d="M403.0,591.8L407.5,599.5H398.5Z" class="m"/>
<path d="M403.0,659.2L407.5,651.5H398.5Z" class="m"/>
<path d="M403.0,672.2L407.5,664.5H398.5Z" class="m"/>
<path d="M403.0,681.2L407.5,673.5H398.5Z" class="m"/>
<path d="M403.0,687.2L407.5,679.5H398.5Z" class="m"/>
<circle cx="403.0" cy="715.0" r="3.8" class="m"/>
<circle cx="403.0" cy="718.0" r="3.8" class="m"/>
<polygon points="403.00,714.00 404.06,716.84 407.09,716.97 404.71,718.86 405.53,721.78 403.00,720.10 400.47,721.78 401.29,718.86 398.91,716.97 401.94,716.84" class="m"/>
<polygon points="403.00,717.00 404.06,719.84 407.09,719.97 404.71,721.86 405.53,724.78 403.00,723.10 400.47,724.78 401.29,721.86 398.91,719.97 401.94,719.84" class="m"/>
<path d="M452.8,597.8L457.3,605.5H448.3Z" class="m"/>
<path d="M452.8,602.8L457.3,610.5H448.3Z" class="m"/>
<path d="M452.8,613.8L457.3,621.5H448.3Z" class="m"/>
<path d="M452.8,615.8L457.3,623.5H448.3Z" class="m"/>
<path d="M452.8,618.8L457.3,626.5H448.3Z" class="m"/>
<path d="M452.8,678.2L457.3,670.5H448.3Z" class="m"/>
<path d="M452.8,684.2L457.3,676.5H448.3Z" class="m"/>
<path d="M452.8,690.2L457.3,682.5H448.3Z" class="m"/>
<polygon points="452.80,695.00 453.86,697.84 456.89,697.97 454.51,699.86 455.33,702.78 452.80,701.10 450.27,702.78 451.09,699.86 448.71,697.97 451.74,697.84" class="m"/>
<polygon points="452.80,699.00 453.86,701.84 456.89,701.97 454.51,703.86 455.33,706.78 452.80,705.10 450.27,706.78 451.09,703.86 448.71,701.97 451.74,701.84" class="m"/>
<polygon points="452.80,702.00 453.86,704.84 456.89,704.97 454.51,706.86 455.33,709.78 452.80,708.10 450.27,709.78 451.09,706.86 448.71,704.97 451.74,704.84" class="m"/>
<circle cx="452.8" cy="715.0" r="3.8" class="m"/>
<circle cx="452.8" cy="718.0" r="3.8" class="m"/>
<path d="M505.2,613.8L509.7,621.5H500.7Z" class="m"/>
<path d="M505.2,617.8L509.7,625.5H500.7Z" class="m"/>
<path d="M505.2,621.8L509.7,629.5H500.7Z" class="m"/>
<path d="M505.2,690.2L509.7,682.5H500.7Z" class="m"/>
<path d="M505.2,694.2L509.7,686.5H500.7Z" class="m"/>
<path d="M505.2,699.2L509.7,691.5H500.7Z" class="m"/>
<polygon points="505.20,704.00 506.26,706.84 509.29,706.97 506.91,708.86 507.73,711.78 505.20,710.10 502.67,711.78 503.49,708.86 501.11,706.97 504.14,706.84" class="m"/>
<polygon points="505.20,710.00 506.26,712.84 509.29,712.97 506.91,714.86 507.73,717.78 505.20,716.10 502.67,717.78 503.49,714.86 501.11,712.97 504.14,712.84" class="m"/>
<polygon points="505.20,713.00 506.26,715.84 509.29,715.97 506.91,717.86 507.73,720.78 505.20,719.10 502.67,720.78 503.49,717.86 501.11,715.97 504.14,715.84" class="m"/>
<circle cx="505.2" cy="714.0" r="3.8" class="m"/>
<path d="M557.8,629.8L562.3,637.5H553.3Z" class="m"/>
<path d="M557.8,634.8L562.3,642.5H553.3Z" class="m"/>
<path d="M557.8,638.8L562.3,646.5H553.3Z" class="m"/>
<path d="M557.8,641.8L562.3,649.5H553.3Z" class="m"/>
<path d="M557.8,689.2L562.3,681.5H553.3Z" class="m"/>
<path d="M557.8,693.2L562.3,685.5H553.3Z" class="m"/>
<path d="M557.8,698.2L562.3,690.5H553.3Z" class="m"/>
<polygon points="557.80,695.00 558.86,697.84 561.89,697.97 559.51,699.86 560.33,702.78 557.80,701.10 555.27,702.78 556.09,699.86 553.71,697.97 556.74,697.84" class="m"/>
<polygon points="557.80,699.00 558.86,701.84 561.89,701.97 559.51,703.86 560.33,706.78 557.80,705.10 555.27,706.78 556.09,703.86 553.71,701.97 556.74,701.84" class="m"/>
<polygon points="557.80,703.00 558.86,705.84 561.89,705.97 559.51,707.86 560.33,710.78 557.80,709.10 555.27,710.78 556.09,707.86 553.71,705.97 556.74,705.84" class="m"/>
<circle cx="557.8" cy="709.0" r="3.8" class="m"/>
<circle cx="557.8" cy="712.0" r="3.8" class="m"/>
<path d="M612.5,569.8L617.0,577.5H608.0Z" class="m"/>
<path d="M612.5,573.8L617.0,581.5H608.0Z" class="m"/>
<path d="M612.5,577.8L617.0,585.5H608.0Z" class="m"/>
<path d="M612.5,585.8L617.0,593.5H608.0Z" class="m"/>
<path d="M612.5,667.2L617.0,659.5H608.0Z" class="m"/>
<path d="M612.5,671.2L617.0,663.5H608.0Z" class="m"/>
<path d="M612.5,675.2L617.0,667.5H608.0Z" class="m"/>
<path d="M612.5,678.2L617.0,670.5H608.0Z" class="m"/>
<polygon points="612.50,673.00 613.56,675.84 616.59,675.97 614.21,677.86 615.03,680.78 612.50,679.10 609.97,680.78 610.79,677.86 608.41,675.97 611.44,675.84" class="m"/>
<polygon points="612.50,679.00 613.56,681.84 616.59,681.97 614.21,683.86 615.03,686.78 612.50,685.10 609.97,686.78 610.79,683.86 608.41,681.97 611.44,681.84" class="m"/>
<polygon points="612.50,690.00 613.56,692.84 616.59,692.97 614.21,694.86 615.03,697.78 612.50,696.10 609.97,697.78 610.79,694.86 608.41,692.97 611.44,692.84" class="m"/>
<circle cx="612.5" cy="718.0" r="3.8" class="m"/>
<circle cx="612.5" cy="721.0" r="3.8" class="m"/>
<path d="M403.00,588.76 L406.51,591.57 L410.02,594.29 L413.53,596.91 L417.03,599.44 L420.54,601.87 L424.05,604.20 L427.56,606.45 L431.07,608.59 L434.58,610.65 L438.08,612.61 L441.59,614.47 L445.10,616.24 L448.61,617.91 L452.12,619.49 L455.63,620.98 L459.14,622.37 L462.64,623.67 L466.15,624.87 L469.66,625.98 L473.17,626.99 L476.68,627.91 L480.19,628.73 L483.69,629.46 L487.20,630.09 L490.71,630.63 L494.22,631.08 L497.73,631.43 L501.24,631.69 L504.75,631.85 L508.25,631.91 L511.76,631.89 L515.27,631.76 L518.78,631.55 L522.29,631.24 L525.80,630.83 L529.31,630.33 L532.81,629.73 L536.32,629.04 L539.83,628.26 L543.34,627.38 L546.85,626.41 L550.36,625.34 L553.86,624.18 L557.37,622.92 L560.88,621.57 L564.39,620.12 L567.90,618.58 L571.41,616.94 L574.92,615.21 L578.42,613.39 L581.93,611.47 L585.44,609.45 L588.95,607.34 L592.46,605.14 L595.97,602.84 L599.47,600.45 L602.98,597.96 L606.49,595.38 L610.00,592.71" fill="none" stroke="#000" stroke-width="2.1" stroke-dasharray="9.3 10.11" stroke-dashoffset="0.26" />
<path d="M403.00,717.85 L406.54,717.42 L410.08,717.00 L413.63,716.57 L417.17,716.15 L420.71,715.72 L424.25,715.30 L427.80,714.87 L431.34,714.45 L434.88,714.02 L438.42,713.60 L441.97,713.17 L445.51,712.75 L449.05,712.32 L452.59,711.90 L456.14,711.47 L459.68,711.05 L463.22,710.62 L466.76,710.20 L470.31,709.77 L473.85,709.35 L477.39,708.92 L480.93,708.50 L484.47,708.07 L488.02,707.64 L491.56,707.22 L495.10,706.79 L498.64,706.37 L502.19,705.94 L505.73,705.52 L509.27,705.09 L512.81,704.67 L516.36,704.24 L519.90,703.82 L523.44,703.39 L526.98,702.97 L530.53,702.54 L534.07,702.12 L537.61,701.69 L541.15,701.27 L544.69,700.84 L548.24,700.42 L551.78,699.99 L555.32,699.57 L558.86,699.14 L562.41,698.72 L565.95,698.29 L569.49,697.87 L573.03,697.44 L576.58,697.02 L580.12,696.59 L583.66,696.17 L587.20,695.74 L590.75,695.32 L594.29,694.89 L597.83,694.47 L601.37,694.04 L604.92,693.62 L608.46,693.19 L612.00,692.77" fill="none" stroke="#000" stroke-width="1.4" stroke-dasharray="2.8 5.50" stroke-dashoffset="0.00" />
<path d="M403.00,671.36 L406.49,672.58 L409.98,673.75 L413.47,674.88 L416.97,675.97 L420.46,677.02 L423.95,678.03 L427.44,678.99 L430.93,679.92 L434.42,680.80 L437.92,681.64 L441.41,682.44 L444.90,683.19 L448.39,683.90 L451.88,684.58 L455.37,685.21 L458.86,685.79 L462.36,686.34 L465.85,686.84 L469.34,687.31 L472.83,687.73 L476.32,688.11 L479.81,688.44 L483.31,688.74 L486.80,688.99 L490.29,689.20 L493.78,689.37 L497.27,689.50 L500.76,689.58 L504.25,689.63 L507.75,689.63 L511.24,689.59 L514.73,689.50 L518.22,689.38 L521.71,689.21 L525.20,689.01 L528.69,688.76 L532.19,688.47 L535.68,688.13 L539.17,687.76 L542.66,687.34 L546.15,686.88 L549.64,686.38 L553.14,685.84 L556.63,685.25 L560.12,684.63 L563.61,683.96 L567.10,683.25 L570.59,682.49 L574.08,681.70 L577.58,680.86 L581.07,679.99 L584.56,679.07 L588.05,678.10 L591.54,677.10 L595.03,676.06 L598.53,674.97 L602.02,673.84 L605.51,672.67 L609.00,671.46" fill="none" stroke="#000" stroke-width="2.1" stroke-dasharray="9.9 6.04 2.6 6.04" stroke-dashoffset="1.91" />
<path d="M403.00,717.64 L406.54,717.36 L410.08,717.09 L413.63,716.83 L417.17,716.58 L420.71,716.34 L424.25,716.11 L427.80,715.88 L431.34,715.67 L434.88,715.46 L438.42,715.27 L441.97,715.08 L445.51,714.90 L449.05,714.73 L452.59,714.57 L456.14,714.42 L459.68,714.28 L463.22,714.14 L466.76,714.02 L470.31,713.90 L473.85,713.79 L477.39,713.70 L480.93,713.61 L484.47,713.53 L488.02,713.46 L491.56,713.39 L495.10,713.34 L498.64,713.30 L502.19,713.26 L505.73,713.24 L509.27,713.22 L512.81,713.21 L516.36,713.21 L519.90,713.22 L523.44,713.24 L526.98,713.27 L530.53,713.31 L534.07,713.35 L537.61,713.41 L541.15,713.47 L544.69,713.54 L548.24,713.63 L551.78,713.72 L555.32,713.82 L558.86,713.93 L562.41,714.04 L565.95,714.17 L569.49,714.31 L573.03,714.45 L576.58,714.61 L580.12,714.77 L583.66,714.94 L587.20,715.12 L590.75,715.31 L594.29,715.51 L597.83,715.72 L601.37,715.93 L604.92,716.16 L608.46,716.39 L612.00,716.64" fill="none" stroke="#000" stroke-width="2.1"  />
<text x="619.6" y="589.7" font-size="14">R<tspan font-size="9.5" dy="-4.3">2</tspan><tspan dy="4.3"> = 0.73</tspan><tspan font-size="10" dy="-5.2">**</tspan></text>
<text x="621.7" y="666.3" font-size="14">R<tspan font-size="9.5" dy="-4.3">2</tspan><tspan dy="4.3"> = 0.64</tspan><tspan font-size="10" dy="-5.2">**</tspan></text>
<text x="620.1" y="697.0" font-size="14">R<tspan font-size="9.5" dy="-4.3">2</tspan><tspan dy="4.3"> = 0.60</tspan><tspan font-size="10" dy="-5.2">**</tspan></text>
<text x="620.1" y="722.5" font-size="14">R<tspan font-size="9.5" dy="-4.3">2</tspan><tspan dy="4.3"> = 0.32</tspan><tspan font-size="10" dy="-5.2">*</tspan></text>
</svg></body></html>
